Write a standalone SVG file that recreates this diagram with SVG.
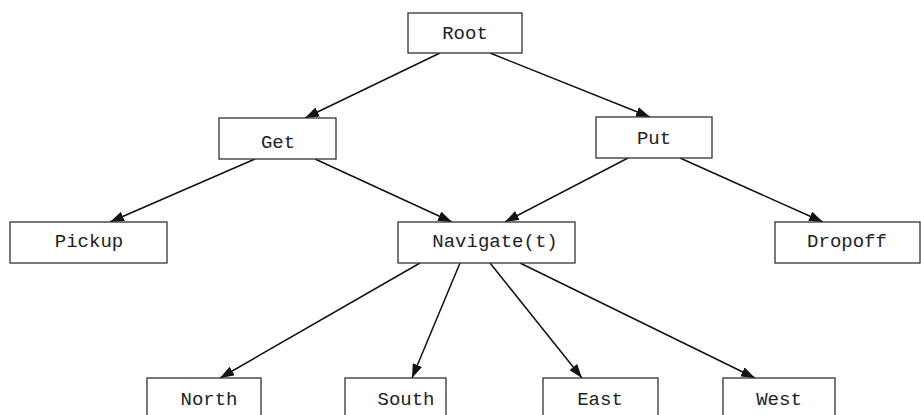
<svg xmlns="http://www.w3.org/2000/svg" width="921" height="415" viewBox="0 0 921 415">
<style>
.box{fill:#fff;stroke:#333;stroke-width:1.3}
.lbl{font-family:"Liberation Mono","DejaVu Sans Mono",monospace;font-size:19px;fill:#222;text-anchor:middle}
.edge{stroke:#111;stroke-width:1.5;fill:none;marker-end:url(#ah)}
</style>
<defs>
<marker id="ah" viewBox="0 0 14 10" refX="14" refY="5" markerWidth="14" markerHeight="10" markerUnits="userSpaceOnUse" orient="auto">
<path d="M0,0 L14,5 L0,10 z" fill="#111"/>
</marker>
</defs>
<rect width="921" height="415" fill="#fff"/>
<g id="connectors">
<line class="edge" x1="440" y1="53" x2="305" y2="118"/>
<line class="edge" x1="490" y1="53" x2="650" y2="117"/>
<line class="edge" x1="255" y1="159" x2="110" y2="222"/>
<line class="edge" x1="315" y1="159" x2="452" y2="222"/>
<line class="edge" x1="628" y1="158" x2="505" y2="222"/>
<line class="edge" x1="680" y1="158" x2="823" y2="222"/>
<line class="edge" x1="420" y1="263" x2="220" y2="378"/>
<line class="edge" x1="460" y1="263" x2="412" y2="378"/>
<line class="edge" x1="490" y1="263" x2="582" y2="378"/>
<line class="edge" x1="520" y1="263" x2="755" y2="378"/>
</g>
<g id="root"><rect class="box" x="408" y="13" width="114" height="40"/><text class="lbl" x="465" y="39">Root</text></g>
<g id="get"><rect class="box" x="219" y="118" width="117" height="41"/><text class="lbl" x="278" y="148">Get</text></g>
<g id="put"><rect class="box" x="596" y="117" width="116" height="41"/><text class="lbl" x="654" y="144">Put</text></g>
<g id="pickup"><rect class="box" x="10" y="222" width="157" height="41"/><text class="lbl" x="89" y="247">Pickup</text></g>
<g id="navigate"><rect class="box" x="398" y="222" width="177" height="41"/><text class="lbl" x="495" y="247">Navigate(t)</text></g>
<g id="dropoff"><rect class="box" x="775" y="222" width="145" height="41"/><text class="lbl" x="847" y="247">Dropoff</text></g>
<g id="north"><rect class="box" x="147" y="378" width="114" height="41"/><text class="lbl" x="209" y="405">North</text></g>
<g id="south"><rect class="box" x="345" y="378" width="101" height="41"/><text class="lbl" x="406" y="405">South</text></g>
<g id="east"><rect class="box" x="543" y="378" width="115" height="41"/><text class="lbl" x="600" y="405">East</text></g>
<g id="west"><rect class="box" x="723" y="378" width="112" height="41"/><text class="lbl" x="779" y="405">West</text></g>
</svg>
